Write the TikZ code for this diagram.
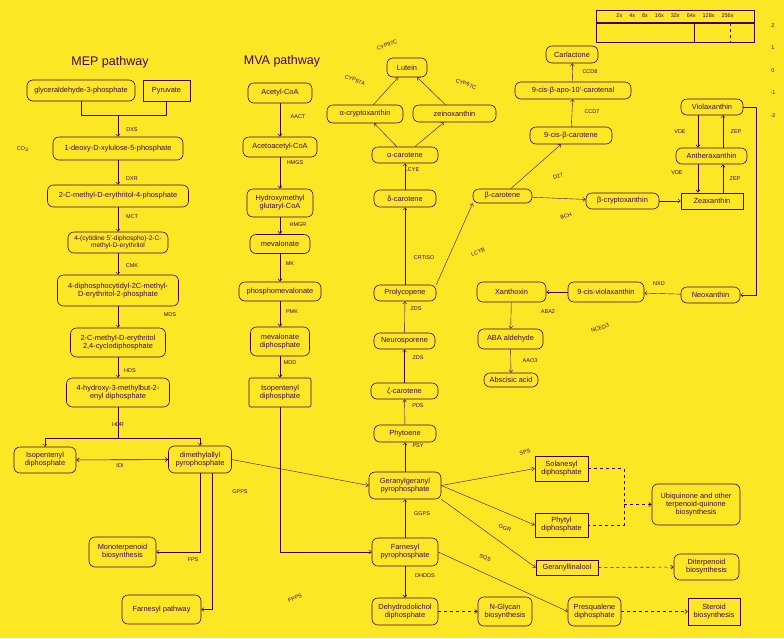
\documentclass[tikz,border=0pt]{standalone}
\usepackage{fontspec}
\setmainfont{Liberation Sans}
\usetikzlibrary{positioning}
\usetikzlibrary{arrows.meta}
\definecolor{ink}{HTML}{440154}
\definecolor{paper}{HTML}{FDE725}

\begin{document}
\begin{tikzpicture}[x=1pt,y=-1pt,color=ink,line width=0.6pt,
  met/.style={draw,rounded corners=6pt,align=center,inner sep=1pt,font=\fontsize{7.4}{8}\selectfont},
  cpd/.style={draw,align=center,inner sep=1pt,font=\fontsize{7.4}{8}\selectfont},
  enz/.style={inner sep=1pt,font=\fontsize{5.5}{6}\selectfont},
  ttl/.style={font=\fontsize{12.5}{13}\selectfont},
  link/.style={line width=0.4pt},
  >={Straight Barb[length=2.5pt,width=4pt]}]
  \fill [paper] (0,0) rectangle (784,638);

  % legend
  \node [enz] (lgd) at (675,16) {2x \quad 4x \quad 8x \quad 16x \quad 32x \quad 64x \quad 128x \quad 256x};
  \draw (596,10) rectangle (754,42);
  \draw [line width=1.4pt] (596,23) -- (754,23);
  \draw (694,23) -- (694,42);
  \draw [dashed] (730,23) -- (730,42);
  \node [enz] (s2) at (773,26) {2};
  \node [enz] (s1) at (773,48) {1};
  \node [enz] (s0) at (773,71) {0};
  \node [enz] (sm1) at (773,93) {-1};
  \node [enz] (sm2) at (773,116) {-2};

  % MEP pathway
  \node [ttl] (mept) at (110,62) {MEP pathway};
  \node [met, minimum width=108pt, minimum height=21pt] (g3p) at (81,90.5) {glyceraldehyde-3-phosphate};
  \node [cpd, minimum width=47pt, minimum height=21pt] (pyr) at (166.5,90.5) {Pyruvate};
  \node [met, minimum width=130pt, minimum height=23pt] (dxp) at (118,148.5) {1-deoxy-D-xylulose-5-phosphate};
  \node [met, minimum width=141pt, minimum height=22pt] (mep) at (118,196) {2-C-methyl-D-erythritol-4-phosphate};
  \node [met, font=\fontsize{6.6}{7.4}\selectfont, minimum width=100pt, minimum height=21pt] (cdpme) at (118,242.5) {4-(cytidine 5'-diphospho)-2-C-\\methyl-D-erythritol};
  \node [met, minimum width=121pt, minimum height=31pt] (cdpmep) at (118,290.5) {4-diphosphocytidyl-2C-methyl-\\D-erythritol-2-phosphate};
  \node [met, minimum width=95pt, minimum height=29pt] (mecpp) at (118,342.5) {2-C-methyl-D-erythritol\\2,4-cyclodiphosphate};
  \node [met, minimum width=103pt, minimum height=29pt] (hmbpp) at (118,392.5) {4-hydroxy-3-methylbut-2-\\enyl diphosphate};
  \node [met, minimum width=62pt, minimum height=26pt] (ipp) at (45,460) {Isopentenyl\\diphosphate};
  \node [met, minimum width=63pt, minimum height=27pt] (dmapp) at (200,459.5) {dimethylallyl\\pyrophosphate};
  \node [met, minimum width=67pt, minimum height=30pt] (mono) at (122.5,552) {Monoterpenoid\\biosynthesis};
  \node [met, minimum width=79pt, minimum height=29pt] (farn) at (161.5,609.5) {Farnesyl pathway};

  \node [enz] (co2) at (23,149) {CO$_2$};
  \node [enz] (dxs) at (132,130) {DXS};
  \node [enz] (dxr) at (132,179) {DXR};
  \node [enz] (mct) at (132,217) {MCT};
  \node [enz] (cmk) at (132,266) {CMK};
  \node [enz] (mds) at (170,315) {MDS};
  \node [enz] (hds) at (130,371) {HDS};
  \node [enz] (hdr) at (118,425) {HDR};
  \node [enz] (idi) at (120,466) {IDI};
  \node [enz] (gpps) at (240,492) {GPPS};
  \node [enz] (fps) at (193,560) {FPS};

  \coordinate (j1) at (118,115);
  \coordinate (j2) at (118,438);
  \coordinate (k1) at (212,473);
  \draw [link] (g3p.south) |- (j1);
  \draw [link] (pyr.south) |- (j1);
  \draw [link,->] (j1) -- (dxp);
  \draw [link,->] (dxp) -- (mep);
  \draw [link,->] (mep) -- (cdpme);
  \draw [link,->] (cdpme) -- (cdpmep);
  \draw [link,->] (cdpmep) -- (mecpp);
  \draw [link,->] (mecpp) -- (hmbpp);
  \draw [link] (hmbpp) -- (j2);
  \draw [link,->] (j2) -| (ipp.north);
  \draw [link,->] (j2) -| (dmapp.north);
  \draw [<->] (ipp) -- (dmapp);
  \draw [link,->] (dmapp.south) |- (mono.east);
  \draw [link,->] (k1) |- (farn.east);

  % MVA pathway
  \node [ttl] (mvat) at (282,61) {MVA pathway};
  \node [met, minimum width=64pt, minimum height=20pt] (acoa) at (280,93) {Acetyl-CoA};
  \node [met, minimum width=74pt, minimum height=20pt] (aacoa) at (280,147) {Acetoacetyl-CoA};
  \node [met, minimum width=66pt, minimum height=28pt] (hmgcoa) at (280,203) {Hydroxymethyl\\glutaryl-CoA};
  \node [met, minimum width=60pt, minimum height=19pt] (mva) at (280,244) {mevalonate};
  \node [met, minimum width=82pt, minimum height=19pt] (mvap) at (280,291.5) {phosphomevalonate};
  \node [met, minimum width=59pt, minimum height=29pt] (mvapp) at (280,341.5) {mevalonate\\diphosphate};
  \node [cpd, rounded corners=2pt, minimum width=62pt, minimum height=29pt] (ippm) at (280,392.5) {Isopentenyl\\diphosphate};

  \node [enz] (aact) at (298,117) {AACT};
  \node [enz] (hmgs) at (295,163) {HMGS};
  \node [enz] (hmgr) at (298,225) {HMGR};
  \node [enz] (mk) at (290,264) {MK};
  \node [enz] (pmk) at (292,312) {PMK};
  \node [enz] (mdd) at (290,363) {MDD};

  \draw [->] (acoa) -- (aacoa);
  \draw [->] (aacoa) -- (hmgcoa);
  \draw [->] (hmgcoa) -- (mva);
  \draw [->] (mva) -- (mvap);
  \draw [->] (mvap) -- (mvapp);
  \draw [->] (mvapp) -- (ippm);

  % carotenoids
  \node [met, minimum width=40pt, minimum height=19pt] (lut) at (407,67.5) {Lutein};
  \node [met, minimum width=76pt, minimum height=18pt] (acryp) at (365,114) {α-cryptoxanthin};
  \node [met, minimum width=83pt, minimum height=17pt] (zein) at (454.5,113.5) {zeinoxanthin};
  \node [met, minimum width=66pt, minimum height=16pt] (acar) at (405,155) {α-carotene};
  \node [met, minimum width=62pt, minimum height=17pt] (dcar) at (405,198.5) {δ-carotene};
  \node [met, minimum width=59pt, minimum height=14pt] (bcar) at (502.5,196) {β-carotene};
  \node [met, minimum width=62pt, minimum height=16pt] (prolyc) at (405,293) {Prolycopene};
  \node [met, minimum width=61pt, minimum height=16pt] (neuro) at (404.5,341) {Neurosporene};
  \node [met, minimum width=67pt, minimum height=16pt] (zcar) at (404.5,391) {ζ-carotene};
  \node [met, minimum width=62pt, minimum height=17pt] (phyt) at (405,433.5) {Phytoene};
  \node [met, minimum width=72pt, minimum height=27pt] (ggpp) at (405,485.5) {Geranylgeranyl\\pyrophosphate};
  \node [met, minimum width=66pt, minimum height=28pt] (fpp) at (405,552) {Farnesyl\\pyrophosphate};
  \node [met, minimum width=66pt, minimum height=27pt] (dhdpp) at (405,611.5) {Dehydrodolichol\\diphosphate};

  \node [enz] (psy) at (418,446) {PSY};
  \node [enz] (pds) at (418,406) {PDS};
  \node [enz] (zds1) at (418,358) {ZDS};
  \node [enz] (zds2) at (416,309) {ZDS};
  \node [enz] (crtiso) at (424,258) {CRTISO};
  \node [enz] (lcye) at (412,170) {LCYE};
  \node [enz] (ggps) at (422,514) {GGPS};
  \node [enz] (dhdds) at (425,576) {DHDDS};
  \node [enz, rotate=20] (cyp97c) at (387,45) {CYP97C};
  \node [enz, rotate=-20] (cyp97a) at (355,80) {CYP97A};
  \node [enz, rotate=-20] (cyp97b) at (466,84) {CYP97C};
  \node [enz, rotate=20] (lcyb) at (478,252) {LCYB};

  \draw [link,->] (ippm.south) |- (fpp.west);
  \draw [link,->] (ggpp) -- (phyt);
  \draw [link,->] (phyt) -- (zcar);
  \draw [link,->] (zcar) -- (neuro);
  \draw [link,->] (neuro) -- (prolyc);
  \draw [link,->] (prolyc) -- (dcar);
  \draw [link,->] (dcar) -- (acar);
  \draw [link,->] (acar) -- (acryp);
  \draw [link,->] (acar) -- (zein);
  \draw [link,->] (acryp) -- (lut);
  \draw [link,->] (zein) -- (lut);
  \draw [link,->] (prolyc.north east) -- (bcar.south west);
  \draw [link,->] (fpp) -- (ggpp);
  \draw [->] (fpp) -- (dhdpp);
  \draw [link,->] (dmapp.east) -- (ggpp.west);

  % strigolactone and xanthophylls
  \node [met, minimum width=52pt, minimum height=17pt] (carl) at (572,54.5) {Carlactone};
  \node [met, minimum width=116pt, minimum height=17pt] (apo) at (573,90.5) {9-cis-β-apo-10'-carotenal};
  \node [met, minimum width=82pt, minimum height=17pt] (cisb) at (571,135.5) {9-cis-β-carotene};
  \node [met, minimum width=62pt, minimum height=16pt] (viola) at (712,107) {Violaxanthin};
  \node [met, minimum width=71pt, minimum height=16pt] (anth) at (711.5,156) {Antheraxanthin};
  \node [cpd, minimum width=62pt, minimum height=16pt] (zea) at (712,201) {Zeaxanthin};
  \node [met, minimum width=73pt, minimum height=16pt] (bcryp) at (622.5,201) {β-cryptoxanthin};
  \node [met, minimum width=76pt, minimum height=20pt] (cisvio) at (606,292) {9-cis-violaxanthin};
  \node [met, minimum width=59pt, minimum height=16pt] (neox) at (710.5,295) {Neoxanthin};
  \node [met, minimum width=69pt, minimum height=20pt] (xan) at (511.5,292) {Xanthoxin};
  \node [met, minimum width=65pt, minimum height=20pt] (abaald) at (510.5,339) {ABA aldehyde};
  \node [met, minimum width=54pt, minimum height=14pt] (aba) at (511,380) {Abscisic acid};

  \node [enz] (ccd8) at (590,72) {CCD8};
  \node [enz] (ccd7) at (592,112) {CCD7};
  \node [enz, rotate=20] (d27) at (558,176) {D27};
  \node [enz, rotate=20] (bch) at (566,216) {BCH};
  \node [enz] (vde1) at (680,132) {VDE};
  \node [enz] (zep1) at (736,132) {ZEP};
  \node [enz] (vde2) at (677,173) {VDE};
  \node [enz] (zep2) at (735,179) {ZEP};
  \node [enz] (nxd) at (659,284) {NXD};
  \node [enz, rotate=20] (nced) at (600,328) {NCED3};
  \node [enz] (aba2) at (548,312) {ABA2};
  \node [enz] (aao3) at (530,361) {AAO3};

  \coordinate (v1) at (698,115);
  \coordinate (v2) at (723,115);
  \coordinate (r1) at (756,107);
  \draw [link,->] (bcar) -- (cisb);
  \draw [link,->] (cisb) -- (apo);
  \draw [link,->] (apo) -- (carl);
  \draw [link,->] (bcar) -- (bcryp);
  \draw [link,->] (bcryp) -- (zea);
  \draw [->] (v1) -- (v1 |- anth.north);
  \draw [link,->] (anth.north -| v2) -- (v2);
  \draw [->] (anth.south -| v1) -- (zea.north -| v1);
  \draw [->] (zea.north -| v2) -- (anth.south -| v2);
  \draw [link] (viola.east) -- (r1);
  \draw [link,->] (r1) |- (neox.east);
  \draw [link,->] (neox) -- (cisvio);
  \draw [link,->] (cisvio) -- (xan);
  \draw [link,->] (xan) -- (abaald);
  \draw [link,->] (abaald) -- (aba);

  % other terpenoids
  \node [cpd, minimum width=53pt, minimum height=25pt] (solan) at (561.5,468.5) {Solanesyl\\diphosphate};
  \node [cpd, minimum width=53pt, minimum height=24pt] (phytyl) at (561.5,525) {Phytyl\\diphosphate};
  \node [met, minimum width=88pt, minimum height=41pt] (ubiq) at (696,504.5) {Ubiquinone and other\\terpenoid-quinone\\biosynthesis};
  \node [cpd, minimum width=62pt, minimum height=15pt] (gglin) at (567,567.5) {Geranyllinalool};
  \node [met, minimum width=65pt, minimum height=26pt] (diterp) at (706.5,567) {Diterpenoid\\biosynthesis};
  \node [met, minimum width=54pt, minimum height=29pt] (nglyc) at (505,611.5) {N-Glycan\\biosynthesis};
  \node [met, minimum width=53pt, minimum height=29pt] (presq) at (594.5,611.5) {Presqualene\\diphosphate};
  \node [cpd, minimum width=52pt, minimum height=27pt] (sterol) at (714,611.5) {Steroid\\biosynthesis};

  \node [enz, rotate=20] (sps) at (525,452) {SPS};
  \node [enz, rotate=-20] (ggr) at (505,528) {GGR};
  \node [enz, rotate=-20] (sqs) at (485,558) {SQS};
  \node [enz, rotate=20] (fpps) at (295,598) {FPPS};

  \coordinate (d1) at (624,468.5);
  \coordinate (d2) at (624,525);
  \draw [link,->] (ggpp.east) -- (solan.west);
  \draw [link,->] (ggpp.east) -- (phytyl.west);
  \draw [link,->] (ggpp.south east) -- (gglin.west);
  \draw [link,->] (fpp.east) -- (presq.west);
  \draw [dashed] (solan.east) -- (d1) -- (d2) -- (phytyl.east);
  \draw [dashed,->] (d1 |- ubiq.west) -- (ubiq.west);
  \draw [dashed,->] (gglin) -- (diterp);
  \draw [dashed,->] (dhdpp) -- (nglyc);
  \draw [dashed,->] (presq) -- (sterol);
\end{tikzpicture}
\end{document}
